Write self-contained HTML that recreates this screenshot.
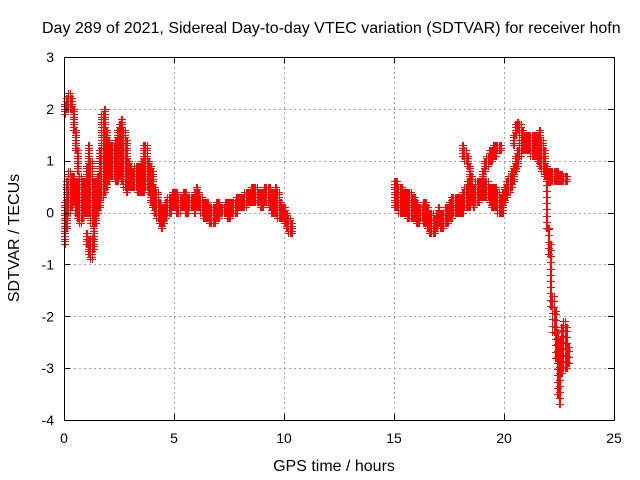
<!DOCTYPE html>
<html><head><meta charset="utf-8"><style>
body{margin:0;background:#fff}
svg{display:block;font-family:"Liberation Sans",sans-serif}
</style></head><body>
<svg id="chart" width="640" height="480" viewBox="0 0 640 480">
<rect width="640" height="480" fill="#fff"/>
<text x="42" y="33" font-size="16" fill="#000">Day 289 of 2021, Sidereal Day-to-day VTEC variation (SDTVAR) for receiver hofn</text>
<g id="grid"></g>
<g id="marks"></g>
<rect x="64.5" y="57.5" width="550" height="363" fill="none" stroke="#000" stroke-width="1"/>
<g id="axes"></g>
<text x="334" y="471" font-size="16" text-anchor="middle">GPS time / hours</text>
<text transform="translate(19,238) rotate(-90)" font-size="16" text-anchor="middle">SDTVAR / TECUs</text>
</svg>
<script>
const xTicks=[0,5,10,15,20,25];
const yTicks=[3,2,1,0,-1,-2,-3,-4];
// bands: start time, step 0.1h, lower and upper envelope (TECU)
const mainT0=0.0;
const mainLo=[-0.6,-0.3,0.0,0.1,0.2,0.0,-0.1,-0.2,-0.1,0.0,0.0,0.0,-0.2,-0.3,-0.2,0.0,0.1,0.3,0.4,0.5,0.6,0.7,0.7,0.6,0.6,0.7,0.6,0.5,0.4,0.5,0.5,0.5,0.5,0.4,0.4,0.4,0.4,0.5,0.4,0.2,0.1,0.0,-0.1,-0.2,-0.3,-0.2,-0.1,0.0,0.0,0.1,0.1,0.0,0.0,0.1,0.1,0.0,0.0,0.1,0.1,0.0,0.1,0.1,0.0,-0.1,-0.1,-0.1,-0.2,-0.2,-0.2,-0.1,-0.1,0.0,0.0,0.0,-0.1,-0.1,0.0,0.0,0.0,0.1,0.1,0.1,0.1,0.2,0.2,0.2,0.2,0.2,0.2,0.1,0.1,0.2,0.2,0.1,0.0,0.0,0.0,-0.1,-0.1,-0.1,-0.2,-0.3,-0.4,-0.4];
const mainHi=[0.2,0.6,0.8,0.7,0.7,0.6,0.6,0.7,0.6,0.6,0.9,1.3,1.0,0.6,0.6,0.7,1.2,1.9,2.0,1.6,1.4,1.3,1.3,1.4,1.6,1.7,1.8,1.6,1.4,1.0,0.9,0.8,0.9,0.9,0.9,1.0,1.3,1.3,1.0,0.9,0.8,0.5,0.4,0.2,0.1,0.1,0.2,0.3,0.3,0.4,0.4,0.4,0.3,0.3,0.4,0.4,0.3,0.3,0.3,0.4,0.5,0.4,0.3,0.2,0.2,0.2,0.1,0.1,0.1,0.2,0.2,0.1,0.1,0.2,0.2,0.2,0.2,0.2,0.3,0.3,0.3,0.3,0.4,0.4,0.4,0.5,0.5,0.5,0.4,0.4,0.4,0.5,0.5,0.5,0.4,0.4,0.5,0.4,0.2,0.1,0.1,0.0,-0.1,-0.2];
const earlyT0=0.0;
const earlyLo=[1.9,2.0,2.0,2.0,1.6,1.2,0.8];
const earlyHi=[2.1,2.2,2.3,2.2,2.0,1.6,1.2];
const dipT0=1.0;
const dipLo=[-0.6,-0.8,-0.9,-0.7];
const dipHi=[-0.4,-0.5,-0.5,-0.3];
const eveT0=15.0;
const eveLo=[0.1,0.1,0.0,0.0,0.0,0.0,-0.1,-0.1,-0.1,-0.1,-0.2,-0.2,-0.1,-0.2,-0.2,-0.3,-0.4,-0.4,-0.4,-0.3,-0.2,-0.3,-0.3,-0.2,-0.2,-0.1,-0.1,0.0,0.0,0.0,0.0,0.0,0.1,0.1,0.1,0.2,0.1,0.2,0.2,0.3,0.3,0.3,0.3,0.2,0.1,0.1,0.1,0.0,0.0,0.0,0.2,0.3,0.4,0.5,0.6,0.8,0.9,1.1,1.2,1.2,1.2,1.2,1.1,1.1,1.1,1.0,0.9,0.8,0.7,0.6,0.6,0.6,0.6,0.6,0.6,0.6,0.6,0.6,0.6];
const eveHi=[0.6,0.6,0.5,0.5,0.4,0.4,0.4,0.4,0.3,0.3,0.2,0.1,0.1,0.2,0.2,0.1,0.0,0.0,-0.1,0.0,0.1,0.0,0.0,0.1,0.1,0.2,0.3,0.3,0.3,0.3,0.3,0.4,0.5,0.6,0.6,0.6,0.5,0.6,0.6,0.6,0.6,0.6,0.6,0.5,0.5,0.5,0.5,0.4,0.3,0.4,0.5,0.6,0.7,0.8,0.9,1.1,1.2,1.4,1.5,1.5,1.5,1.5,1.5,1.5,1.5,1.5,1.6,1.4,1.2,0.9,0.8,0.8,0.8,0.8,0.8,0.75,0.75,0.7,0.7];
const arcT0=18.1;
const arcLo=[1.1,1.0,0.9,0.7,0.5];
const arcHi=[1.3,1.2,1.1,0.9,0.7];
const ridgeT0=19.0;
const ridgeLo=[0.6,0.8,0.9,1.0,1.0,1.1,1.1,1.2,1.2];
const ridgeHi=[0.8,1.0,1.1,1.2,1.2,1.3,1.3,1.3,1.3];
const peakT0=20.4;
const peakLo=[1.3,1.5,1.6,1.5,1.4];
const peakHi=[1.5,1.7,1.75,1.7,1.6];
const dropT0=21.9;
const dropLo=[-0.3,-0.8,-1.8,-2.3,-2.8,-3.5,-3.7,-3.1,-3.0,-3.0,-2.9];
const dropHi=[0.6,-0.3,-0.6,-1.6,-1.9,-2.3,-2.5,-2.2,-2.1,-2.2,-2.6];

const X0=64,X1=614,Y0=420,Y1=57;
const xs=t=>X0+(t-0)/(25-0)*(X1-X0);
const ys=v=>Y0-(v-(-4))/(3-(-4))*(Y0-Y1);
const NS="http://www.w3.org/2000/svg";
const grid=document.getElementById('grid'),axes=document.getElementById('axes'),marks=document.getElementById('marks');
function mk(tag,attrs,parent){const e=document.createElementNS(NS,tag);for(const k in attrs)e.setAttribute(k,attrs[k]);parent.appendChild(e);return e;}
const px=v=>Math.round(v)+0.5;
xTicks.forEach(t=>{
  const x=px(xs(t));
  if(t>0&&t<25){const g=mk('line',{x1:x,x2:x,y1:Y1,y2:Y0,stroke:'#a0a0a0','stroke-dasharray':'2,3','shape-rendering':'crispEdges'},grid);
  
  }
  mk('line',{x1:x,x2:x,y1:Y0,y2:Y0-6,stroke:'#000','shape-rendering':'crispEdges'},axes);
  mk('line',{x1:x,x2:x,y1:Y1,y2:Y1+6,stroke:'#000','shape-rendering':'crispEdges'},axes);
  const l=mk('text',{x:xs(t),y:443,'font-size':'14','text-anchor':'middle'},axes);
  l.textContent=t;
  
  
});
yTicks.forEach(v=>{
  const y=px(ys(v));
  if(v<3&&v>-4){const g=mk('line',{x1:X0,x2:X1,y1:y,y2:y,stroke:'#a0a0a0','stroke-dasharray':'2,3','shape-rendering':'crispEdges'},grid);
  
  }
  mk('line',{x1:X0,x2:X0+6,y1:y,y2:y,stroke:'#000','shape-rendering':'crispEdges'},axes);
  mk('line',{x1:X1,x2:X1-6,y1:y,y2:y,stroke:'#000','shape-rendering':'crispEdges'},axes);
  const l=mk('text',{x:54,y:ys(v)+5,'font-size':'14','text-anchor':'end'},axes);
  l.textContent=v;
  
  
});
let d='';
function plus(x,y){x=px(x);y=px(y);d+=`M${x-3.5},${y}h7M${x},${y-3.5}v7`;}
function band(t0,lo,hi,vstep){
  for(let i=0;i<lo.length;i++){
    const t=t0+i*0.1;
    const a=Math.min(lo[i],hi[i]),b=Math.max(lo[i],hi[i]);
    for(const dx of [0,0.05]){
      const x=xs(t+dx);
      for(let v=a;v<=b+1e-6;v+=vstep){plus(x,ys(v));}
      plus(x,ys(b));
    }
  }
}
band(mainT0,mainLo,mainHi,0.05);
band(earlyT0,earlyLo,earlyHi,0.05);
band(dipT0,dipLo,dipHi,0.05);
band(eveT0,eveLo,eveHi,0.05);
band(arcT0,arcLo,arcHi,0.05);
band(ridgeT0,ridgeLo,ridgeHi,0.05);
band(peakT0,peakLo,peakHi,0.05);
band(dropT0,dropLo,dropHi,0.12);
const p=mk('path',{d:d,stroke:'#ff0000','stroke-width':'1',fill:'none','shape-rendering':'crispEdges'},marks);


</script>
</body></html>
